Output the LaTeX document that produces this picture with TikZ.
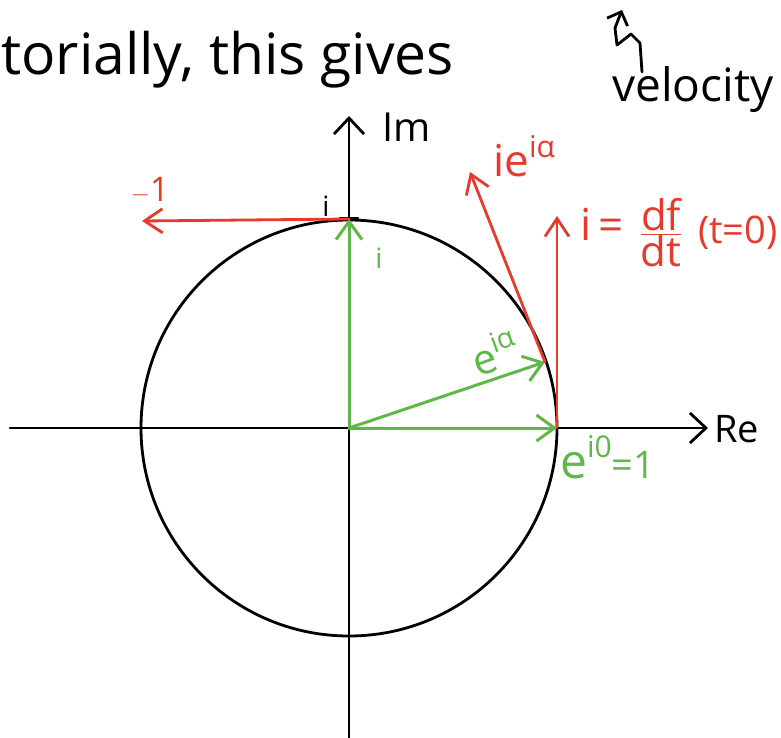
\documentclass[tikz,border=0pt]{standalone}
\usepackage{fontspec}
\setmainfont{Open Sans}
\usetikzlibrary{arrows.meta}
\definecolor{hred}{HTML}{E8392B}
\definecolor{hgreen}{HTML}{5DB848}
\begin{document}
\begin{tikzpicture}[x=1pt,y=-1pt, line cap=round, line join=round,
  axis/.style={draw=black, line width=2.8pt, -{Straight Barb[length=16pt,width=30pt,line width=2.8pt]}},
  gvec/.style={draw=hgreen, line width=3pt, -{Straight Barb[length=18pt,width=26pt,line width=3pt]}},
  rvec/.style={draw=hred, line width=2.8pt, -{Straight Barb[length=18pt,width=24pt,line width=2.8pt]}},
  lbl/.style={inner sep=0pt},
  blk/.style={lbl, text=black},
  grn/.style={lbl, text=hgreen},
  rd/.style={lbl, text=hred}]
\useasboundingbox (0,0) rectangle (781,738);
% points
\coordinate (O) at (349,428);
\coordinate (E0) at (557,428);
\coordinate (Ei) at (349,219);
\coordinate (Ea) at (545,362);
\coordinate (Rtip) at (708,428);
\coordinate (Rstart) at (10,428);
\coordinate (Itip) at (349,116);
\coordinate (Istart) at (349,738);
\coordinate (M1) at (142,221);
\coordinate (IEa) at (470,172);
\coordinate (V0) at (557,216);
% circle
\draw[line width=2.8pt] (O) circle[radius=208];
% axes
\draw[axis] (Rstart) -- (Rtip);
\draw[axis] (Istart) -- (Itip);
\draw[line width=2.8pt] (340,218) -- (358,218);
% green vectors
\draw[gvec] (O) -- (Ei);
\draw[gvec] (O) -- (Ea);
\draw[gvec] (O) -- (E0);
% red vectors
\draw[rvec] (Ei) -- (M1);
\draw[rvec] (Ea) -- (IEa);
\draw[rvec] (E0) -- (V0);
% squiggle arrow
\coordinate (s0) at (642,72);
\coordinate (s1) at (640,43);
\coordinate (s2) at (631,34);
\coordinate (s3) at (617,45);
\coordinate (s4) at (615,28);
\coordinate (s5) at (622,10);
\draw[line width=2.8pt, -{Straight Barb[length=11pt,width=22pt,line width=2.8pt]}] (s0) -- (s1) -- (s2) -- (s3) -- (s4) -- (s5);
% texts
\node[blk, anchor=base west, font=\fontsize{57}{64}\selectfont] (title) at (1,75) {torially, this gives};
\node[blk, anchor=base west, font=\fontsize{46}{52}\selectfont] (vel) at (612,102) {velocity};
\node[blk, anchor=base west, font=\fontsize{40}{46}\selectfont] (im) at (382,142) {Im};
\node[blk, anchor=base west, font=\fontsize{38}{44}\selectfont] (re) at (714,442) {Re};
\node[blk, anchor=base, font=\fontsize{28}{32}\selectfont] (ib) at (326,216) {i};
\node[rd, anchor=base, font=\fontsize{34}{40}\selectfont] (m1) at (150,201) {$-$1};
\node[grn, anchor=base, font=\fontsize{28}{32}\selectfont] (ig) at (379,268) {i};
\node[grn, anchor=base west, rotate=20, font=\fontsize{42}{48}\selectfont] (ea) at (478,378) {e\raisebox{0.42em}{\fontsize{28}{32}\selectfont iα}};
\node[rd, anchor=base west, font=\fontsize{44}{50}\selectfont] (iea) at (493,176) {ie\raisebox{0.42em}{\fontsize{30}{34}\selectfont iα}};
\node[rd, anchor=base west, font=\fontsize{44}{50}\selectfont] (ieq) at (580,240) {i\,=};
\node[rd, font=\fontsize{42}{48}\selectfont] (frac) at (661,233) {$\frac{\hbox{df}}{\hbox{dt}}$};
\node[rd, anchor=base west, font=\fontsize{38}{44}\selectfont] (t0) at (698,243) {(t=0)};
\node[grn, anchor=base west, font=\fontsize{48}{54}\selectfont] (e0) at (560,478) {e\raisebox{0.42em}{\fontsize{30}{34}\selectfont i0}\fontsize{38}{44}\selectfont=1};
\end{tikzpicture}
\end{document}
